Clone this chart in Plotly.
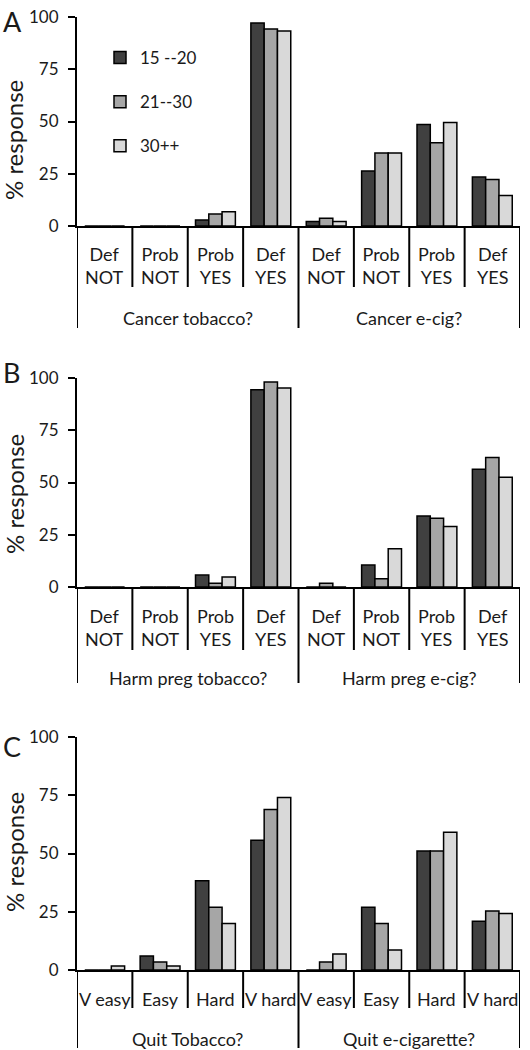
import plotly.graph_objects as go

# ---------------- data ----------------
age_groups = ["15 --20", "21--30", "30++"]
bar_colors = ["#404040", "#a6a6a6", "#d9d9d9"]

cats_yesno = ["Def<br>NOT", "Prob<br>NOT", "Prob<br>YES", "Def<br>YES",
              "Def<br>NOT", "Prob<br>NOT", "Prob<br>YES", "Def<br>YES"]
cats_quit = ["V easy", "Easy", "Hard", "V hard",
             "V easy", "Easy", "Hard", "V hard"]

groups_A = ["Cancer tobacco?", "Cancer e-cig?"]
groups_B = ["Harm preg tobacco?", "Harm preg e-cig?"]
groups_C = ["Quit Tobacco?", "Quit e-cigarette?"]

A_15_20 = [0, 0, 2.9, 97.1, 2.1, 26.3, 48.6, 23.4]
A_21_30 = [0, 0, 5.7, 94.3, 3.7, 34.9, 39.8, 22.3]
A_30pp = [0, 0, 6.8, 93.3, 2.1, 34.9, 49.5, 14.6]

B_15_20 = [0, 0, 5.7, 94.4, 0, 10.5, 34.0, 56.3]
B_21_30 = [0, 0, 1.8, 98.1, 1.8, 4.0, 32.9, 62.0]
B_30pp = [0, 0, 4.8, 95.2, 0, 18.3, 29.0, 52.5]

C_15_20 = [0, 6.0, 38.3, 55.7, 0, 26.9, 51.1, 20.9]
C_21_30 = [0, 3.4, 26.9, 68.9, 3.4, 20.0, 51.1, 25.3]
C_30pp = [1.7, 1.7, 20.0, 74.0, 6.9, 8.6, 59.1, 24.3]

y_ticks = [0, 25, 50, 75, 100]
panel_letters = ["A", "B", "C"]

# ---------------- layout constants ----------------
W, H = 530, 1050
ML, MR = 77, 10
FONT = "Lato"
TXT = "#1a1a1a"

# panel pixel geometry (top of plot, zero line, label offsets)
panels = [
    dict(top=17, zero=226, cats=cats_yesno, groups=groups_A,
         data=[A_15_20, A_21_30, A_30pp], inner=61, outer=102,
         cat_shift=-15, grp_shift=-79, title_c=140, letter_y=3),
    dict(top=378, zero=587, cats=cats_yesno, groups=groups_B,
         data=[B_15_20, B_21_30, B_30pp], inner=63, outer=96,
         cat_shift=-16, grp_shift=-78, title_c=494, letter_y=354),
    dict(top=737, zero=970, cats=cats_quit, groups=groups_C,
         data=[C_15_20, C_21_30, C_30pp], inner=38, outer=78,
         cat_shift=-16, grp_shift=-56, title_c=852, letter_y=728),
]

fig = go.Figure()
shapes = []
annotations = []
plot_w = W - ML - MR

for p_i, p in enumerate(panels):
    suffix = "" if p_i == 0 else str(p_i + 1)
    xname, yname = "x" + suffix, "y" + suffix
    n = len(p["cats"])
    xs = list(range(n))
    for g_i, (gname, vals) in enumerate(zip(age_groups, p["data"])):
        fig.add_trace(go.Bar(
            x=xs, y=vals, name=gname,
            marker=dict(color=bar_colors[g_i], line=dict(color="black", width=1.5)),
            xaxis=xname, yaxis=yname,
            showlegend=(p_i == 0),
            legendgroup=gname,
        ))
    dom = [1 - p["zero"] / H, 1 - p["top"] / H]
    fig.layout["xaxis" + suffix] = dict(
        domain=[0, 1], anchor=yname, range=[-0.5, n - 0.5],
        showticklabels=False, ticks="", showgrid=False, zeroline=False,
        showline=True, linecolor="black", linewidth=2, automargin=False,
    )
    fig.layout["yaxis" + suffix] = dict(
        domain=dom, anchor=xname, range=[0, 100], tickvals=y_ticks,
        ticks="outside", ticklen=7, tickwidth=2, tickcolor="black",
        showgrid=False, zeroline=False, showline=True, linecolor="black",
        linewidth=2, tickfont=dict(family=FONT, size=17, color=TXT),
        ticklabelstandoff=6, automargin=False,
    )
    # category dividers
    half = n // 2
    for k in range(n + 1):
        outer = (k % half == 0)
        shapes.append(dict(
            type="line", xref=xname, yref=yname + " domain",
            ysizemode="pixel", yanchor=0,
            x0=k - 0.5, x1=k - 0.5, y0=0,
            y1=-(p["outer"] if outer else p["inner"]),
            line=dict(color="black", width=2),
        ))
    # category labels
    for k, lab in enumerate(p["cats"]):
        annotations.append(dict(
            x=k, xref=xname, y=0, yref=yname + " domain", yanchor="top",
            yshift=p["cat_shift"], text=lab, showarrow=False,
            font=dict(family=FONT, size=18, color=TXT),
        ))
    # group labels
    for g, glab in enumerate(p["groups"]):
        annotations.append(dict(
            x=(half - 1) / 2 + g * half, xref=xname, y=0,
            yref=yname + " domain", yanchor="top", yshift=p["grp_shift"],
            text=glab, showarrow=False,
            font=dict(family=FONT, size=18, color=TXT),
        ))
    # y title
    annotations.append(dict(
        x=(14 - ML) / plot_w, xref="paper", y=1 - p["title_c"] / H, yref="paper",
        text="% response", textangle=-90, showarrow=False,
        xanchor="center", yanchor="middle",
        font=dict(family=FONT, size=24, color=TXT),
    ))
    # panel letter
    annotations.append(dict(
        x=(1 - ML) / plot_w, xref="paper", y=1 - p["letter_y"] / H, yref="paper",
        text=panel_letters[p_i], showarrow=False, xanchor="left", yanchor="top",
        font=dict(family=FONT, size=27, color=TXT),
    ))

fig.update_layout(
    width=W, height=H,
    margin=dict(l=ML, r=MR, t=0, b=0, autoexpand=False),
    paper_bgcolor="white", plot_bgcolor="white",
    barmode="group", bargap=0.28, bargroupgap=0,
    shapes=shapes, annotations=annotations,
    legend=dict(
        x=(100 - ML) / plot_w, xanchor="left", y=1 - 40 / H, yanchor="top",
        bgcolor="rgba(0,0,0,0)", borderwidth=0,
        font=dict(family=FONT, size=17, color=TXT),
        traceorder="grouped", tracegroupgap=19, itemwidth=30,
    ),
    font=dict(family=FONT, color=TXT),
)

fig.write_html(
    "out.html",
    config={"displayModeBar": False},
    post_script="document.body.style.margin='0';document.body.style.overflow='hidden';",
)
